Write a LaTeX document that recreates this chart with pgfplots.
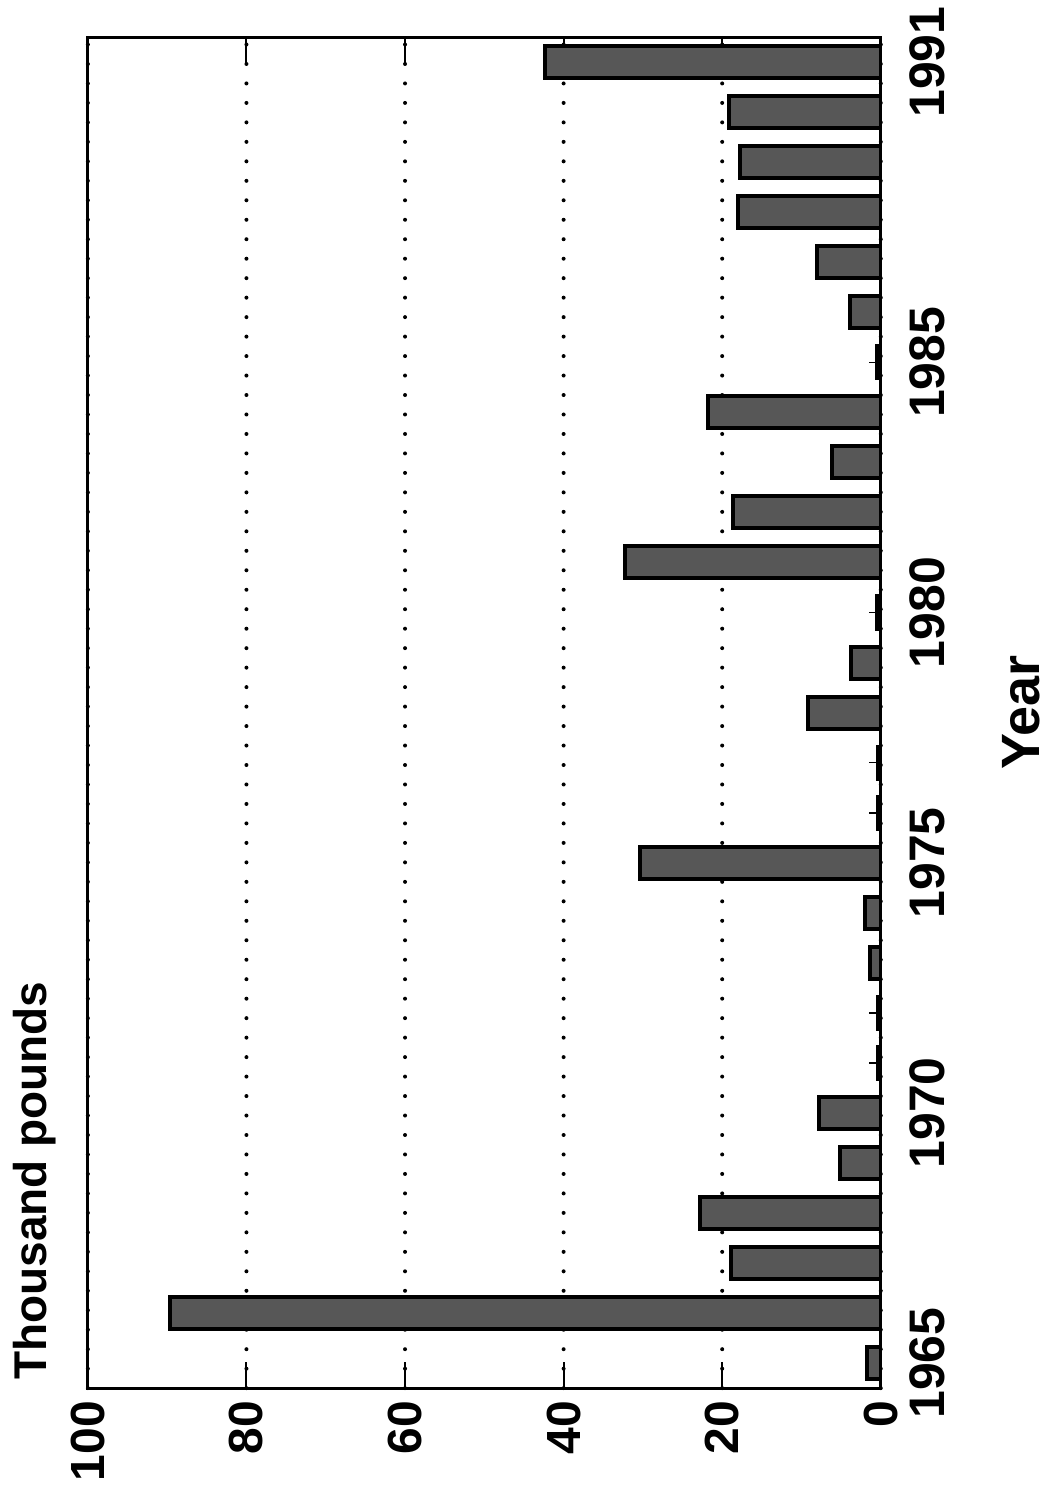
\documentclass[border=0pt]{standalone}
\usepackage{fontspec}
\setmainfont{Liberation Sans}
\usepackage{pgfplots}
\pgfplotsset{compat=1.18}

\begin{document}
\begin{tikzpicture}[rotate=90, transform shape]
\begin{axis}[
    scale only axis,
    width=676.5pt, height=397pt,
    ybar, bar width=0.64,
    xmin=1964.5, xmax=1991.5,
    ymin=0, ymax=100,
    xtick={1965,...,1991},
    xticklabels={1965,,,,,1970,,,,,1975,,,,,1980,,,,,1985,,,,,,1991},
    ytick={0,20,...,100},
    tick align=inside,
    xtick pos=bottom,
    axis line style={line width=1.5pt},
    xtick style={line width=0.8pt, black, /pgfplots/major tick length=6pt},
    ytick style={line width=1pt, black, /pgfplots/major tick length=13pt},
    ymajorgrids,
    major grid style={black, line width=2pt, line cap=round, dash pattern=on 0pt off 9.75pt},
    /pgf/number format/assume math mode=true,
    xticklabel style={font=\fontsize{25}{30}\selectfont\bfseries, yshift=-10.7pt},
    yticklabel style={font=\fontsize{24}{29}\selectfont\bfseries, xshift=-3pt},
    xlabel={Year},
    xlabel style={at={(rel axis cs:0.5,0)}, anchor=north, yshift=-57.3pt,
        font=\fontsize{27}{32}\selectfont\bfseries},
    ylabel={Thousand pounds},
    ylabel style={rotate=-90, at={(rel axis cs:0,1)}, anchor=base west,
        inner sep=0pt, xshift=4pt, yshift=20.5pt,
        font=\fontsize{23}{28}\selectfont\bfseries},
]
\addplot[fill=black!66, draw=black, line width=2pt] coordinates {
    (1965,1.8) (1966,89.6) (1967,18.9) (1968,22.8) (1969,5.2) (1970,7.8)
    (1971,0.3) (1972,0.3) (1973,1.4) (1974,2.0) (1975,30.4) (1976,0.3)
    (1977,0.3) (1978,9.2) (1979,3.8) (1980,0.5) (1981,32.2) (1982,18.6)
    (1983,6.1) (1984,21.8) (1985,0.5) (1986,3.9) (1987,8.1) (1988,18.0)
    (1989,17.8) (1990,19.1) (1991,42.3)
};
\end{axis}
\path (-54.5pt,-84pt) rectangle (694pt,441pt);
\end{tikzpicture}
\end{document}
